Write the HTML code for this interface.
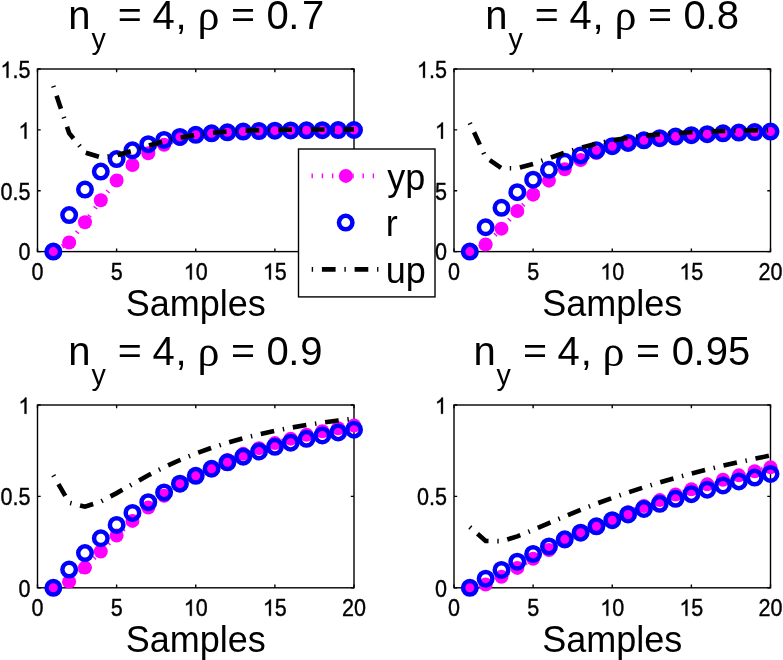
<!DOCTYPE html>
<html><head><meta charset="utf-8"><style>
html,body{margin:0;padding:0;background:#fff;overflow:hidden}
svg{display:block;will-change:transform}
text{font-family:"Liberation Sans",sans-serif;fill:#000}
.tk{font-size:22px;stroke:#000;stroke-width:0.35px}
.lb{font-size:36px}
.tt{font-size:40px}
.sub{font-size:30.2px}
.rho{font-family:"Liberation Serif",serif;font-size:44px}
</style></head><body>
<svg width="783" height="660" viewBox="0 0 783 660">
<rect width="783" height="660" fill="#fff"/>
<rect x="37.5" y="69.0" width="316.5" height="182.60" fill="none" stroke="#000" stroke-width="1.4"/>
<path d="M37.50 251.6v-3.2M37.50 69.0v3.2M116.62 251.6v-3.2M116.62 69.0v3.2M195.75 251.6v-3.2M195.75 69.0v3.2M274.88 251.6v-3.2M274.88 69.0v3.2M354.00 251.6v-3.2M354.00 69.0v3.2M37.5 251.60h3.2M354.0 251.60h-3.2M37.5 190.73h3.2M354.0 190.73h-3.2M37.5 129.87h3.2M354.0 129.87h-3.2M37.5 69.00h3.2M354.0 69.00h-3.2" stroke="#000" stroke-width="1.4" fill="none"/>
<g class="tk" transform="translate(31.50 279.60) scale(0.98 1.07)"><text x="0.000" y="0">0</text></g>
<g class="tk" transform="translate(110.63 279.60) scale(0.98 1.07)"><text x="0.000" y="0">5</text></g>
<g class="tk" transform="translate(183.76 279.60) scale(0.98 1.07)"><path d="M763 0H583V1147Q518 1085 412 1023Q306 961 223 930V1104Q373 1175 485 1276Q597 1377 643 1466H763Z" stroke-width="32.6" transform="translate(0.000 0) scale(0.01074 -0.01032)"/><text x="12.235" y="0">0</text></g>
<g class="tk" transform="translate(262.88 279.60) scale(0.98 1.07)"><path d="M763 0H583V1147Q518 1085 412 1023Q306 961 223 930V1104Q373 1175 485 1276Q597 1377 643 1466H763Z" stroke-width="32.6" transform="translate(0.000 0) scale(0.01074 -0.01032)"/><text x="12.235" y="0">5</text></g>
<g class="tk" transform="translate(342.01 279.60) scale(0.98 1.07)"><text x="0.000" y="0">2</text><text x="12.235" y="0">0</text></g>
<g class="tk" transform="translate(18.41 260.40) scale(0.98 1.07)"><text x="0.000" y="0">0</text></g>
<g class="tk" transform="translate(0.43 199.53) scale(0.98 1.07)"><text x="0.000" y="0">0</text><text x="12.235" y="0">.</text><text x="18.348" y="0">5</text></g>
<g class="tk" transform="translate(18.41 138.67) scale(0.98 1.07)"><path d="M763 0H583V1147Q518 1085 412 1023Q306 961 223 930V1104Q373 1175 485 1276Q597 1377 643 1466H763Z" stroke-width="32.6" transform="translate(0.000 0) scale(0.01074 -0.01032)"/></g>
<g class="tk" transform="translate(0.43 77.80) scale(0.98 1.07)"><path d="M763 0H583V1147Q518 1085 412 1023Q306 961 223 930V1104Q373 1175 485 1276Q597 1377 643 1466H763Z" stroke-width="32.6" transform="translate(0.000 0) scale(0.01074 -0.01032)"/><text x="12.235" y="0">.</text><text x="18.348" y="0">5</text></g>
<polyline points="53.33,251.60 69.15,242.49 84.97,222.22 100.80,200.19 116.62,180.62 132.45,164.95 148.28,153.20 164.10,144.83 179.93,139.11 195.75,135.34 211.57,132.95 227.40,131.49 243.22,130.63 259.05,130.16 274.88,129.92 290.70,129.81 306.52,129.77 322.35,129.77 338.18,129.78 354.00,129.80" fill="none" stroke="#f0f" stroke-width="4.6" stroke-dasharray="1.4 8.8"/>
<g fill="#f0f"><circle cx="53.33" cy="251.60" r="7"/><circle cx="69.15" cy="242.49" r="7"/><circle cx="84.97" cy="222.22" r="7"/><circle cx="100.80" cy="200.19" r="7"/><circle cx="116.62" cy="180.62" r="7"/><circle cx="132.45" cy="164.95" r="7"/><circle cx="148.28" cy="153.20" r="7"/><circle cx="164.10" cy="144.83" r="7"/><circle cx="179.93" cy="139.11" r="7"/><circle cx="195.75" cy="135.34" r="7"/><circle cx="211.57" cy="132.95" r="7"/><circle cx="227.40" cy="131.49" r="7"/><circle cx="243.22" cy="130.63" r="7"/><circle cx="259.05" cy="130.16" r="7"/><circle cx="274.88" cy="129.92" r="7"/><circle cx="290.70" cy="129.81" r="7"/><circle cx="306.52" cy="129.77" r="7"/><circle cx="322.35" cy="129.77" r="7"/><circle cx="338.18" cy="129.78" r="7"/><circle cx="354.00" cy="129.80" r="7"/></g>
<g fill="none" stroke="#00f" stroke-width="4.5"><circle cx="53.33" cy="251.60" r="6.75"/><circle cx="69.15" cy="215.08" r="6.75"/><circle cx="84.97" cy="189.52" r="6.75"/><circle cx="100.80" cy="171.62" r="6.75"/><circle cx="116.62" cy="159.09" r="6.75"/><circle cx="132.45" cy="150.33" r="6.75"/><circle cx="148.28" cy="144.19" r="6.75"/><circle cx="164.10" cy="139.89" r="6.75"/><circle cx="179.93" cy="136.88" r="6.75"/><circle cx="195.75" cy="134.78" r="6.75"/><circle cx="211.57" cy="133.31" r="6.75"/><circle cx="227.40" cy="132.27" r="6.75"/><circle cx="243.22" cy="131.55" r="6.75"/><circle cx="259.05" cy="131.05" r="6.75"/><circle cx="274.88" cy="130.69" r="6.75"/><circle cx="290.70" cy="130.44" r="6.75"/><circle cx="306.52" cy="130.27" r="6.75"/><circle cx="322.35" cy="130.15" r="6.75"/><circle cx="338.18" cy="130.06" r="6.75"/><circle cx="354.00" cy="130.01" r="6.75"/></g>
<polyline points="53.33,85.99 69.15,133.10 84.97,152.51 100.80,157.36 116.62,155.34 132.45,150.72 148.28,145.66 164.10,141.15 179.93,137.54 195.75,134.83 211.57,132.90 227.40,131.57 243.22,130.70 259.05,130.15 274.88,129.81 290.70,129.61 306.52,129.50 322.35,129.45 338.18,129.42 354.00,129.41" fill="none" stroke="#000" stroke-width="4.6" stroke-dasharray="1.4 8.8 13.7 8.8"/>
<text class="tt" x="68.34" y="28.90">n</text>
<text class="sub" transform="translate(91.50 49.00) scale(0.95 1)">y</text>
<text class="tt" transform="translate(117.83 27.10) scale(1.03 0.907)">=</text>
<text class="tt" x="152.45" y="28.90">4</text>
<text class="tt" x="175.60" y="28.90">,</text>
<text class="rho" x="197.40" y="30.10">ρ</text>
<text class="tt" transform="translate(230.98 27.10) scale(1.03 0.907)">=</text>
<text class="tt" x="266.58" y="28.90">0</text>
<text class="tt" x="288.29" y="28.90">.</text>
<text class="tt" x="302.10" y="28.90">7</text>
<text class="lb" x="195.75" y="315.60" text-anchor="middle">Samples</text>
<rect x="454.0" y="69.0" width="316.5" height="182.60" fill="none" stroke="#000" stroke-width="1.4"/>
<path d="M454.00 251.6v-3.2M454.00 69.0v3.2M533.12 251.6v-3.2M533.12 69.0v3.2M612.25 251.6v-3.2M612.25 69.0v3.2M691.38 251.6v-3.2M691.38 69.0v3.2M770.50 251.6v-3.2M770.50 69.0v3.2M454.0 251.60h3.2M770.5 251.60h-3.2M454.0 190.73h3.2M770.5 190.73h-3.2M454.0 129.87h3.2M770.5 129.87h-3.2M454.0 69.00h3.2M770.5 69.00h-3.2" stroke="#000" stroke-width="1.4" fill="none"/>
<g class="tk" transform="translate(448.00 279.60) scale(0.98 1.07)"><text x="0.000" y="0">0</text></g>
<g class="tk" transform="translate(527.13 279.60) scale(0.98 1.07)"><text x="0.000" y="0">5</text></g>
<g class="tk" transform="translate(600.26 279.60) scale(0.98 1.07)"><path d="M763 0H583V1147Q518 1085 412 1023Q306 961 223 930V1104Q373 1175 485 1276Q597 1377 643 1466H763Z" stroke-width="32.6" transform="translate(0.000 0) scale(0.01074 -0.01032)"/><text x="12.235" y="0">0</text></g>
<g class="tk" transform="translate(679.38 279.60) scale(0.98 1.07)"><path d="M763 0H583V1147Q518 1085 412 1023Q306 961 223 930V1104Q373 1175 485 1276Q597 1377 643 1466H763Z" stroke-width="32.6" transform="translate(0.000 0) scale(0.01074 -0.01032)"/><text x="12.235" y="0">5</text></g>
<g class="tk" transform="translate(758.51 279.60) scale(0.98 1.07)"><text x="0.000" y="0">2</text><text x="12.235" y="0">0</text></g>
<g class="tk" transform="translate(434.91 260.40) scale(0.98 1.07)"><text x="0.000" y="0">0</text></g>
<g class="tk" transform="translate(416.93 199.53) scale(0.98 1.07)"><text x="0.000" y="0">0</text><text x="12.235" y="0">.</text><text x="18.348" y="0">5</text></g>
<g class="tk" transform="translate(434.91 138.67) scale(0.98 1.07)"><path d="M763 0H583V1147Q518 1085 412 1023Q306 961 223 930V1104Q373 1175 485 1276Q597 1377 643 1466H763Z" stroke-width="32.6" transform="translate(0.000 0) scale(0.01074 -0.01032)"/></g>
<g class="tk" transform="translate(416.93 77.80) scale(0.98 1.07)"><path d="M763 0H583V1147Q518 1085 412 1023Q306 961 223 930V1104Q373 1175 485 1276Q597 1377 643 1466H763Z" stroke-width="32.6" transform="translate(0.000 0) scale(0.01074 -0.01032)"/><text x="12.235" y="0">.</text><text x="18.348" y="0">5</text></g>
<polyline points="469.82,251.60 485.65,244.52 501.48,228.66 517.30,211.01 533.12,194.64 548.95,180.64 564.77,169.19 580.60,160.07 596.42,152.94 612.25,147.42 628.08,143.19 643.90,139.95 659.73,137.49 675.55,135.63 691.38,134.22 707.20,133.15 723.02,132.34 738.85,131.73 754.67,131.27 770.50,130.93" fill="none" stroke="#f0f" stroke-width="4.6" stroke-dasharray="1.4 8.8"/>
<g fill="#f0f"><circle cx="469.82" cy="251.60" r="7"/><circle cx="485.65" cy="244.52" r="7"/><circle cx="501.48" cy="228.66" r="7"/><circle cx="517.30" cy="211.01" r="7"/><circle cx="533.12" cy="194.64" r="7"/><circle cx="548.95" cy="180.64" r="7"/><circle cx="564.77" cy="169.19" r="7"/><circle cx="580.60" cy="160.07" r="7"/><circle cx="596.42" cy="152.94" r="7"/><circle cx="612.25" cy="147.42" r="7"/><circle cx="628.08" cy="143.19" r="7"/><circle cx="643.90" cy="139.95" r="7"/><circle cx="659.73" cy="137.49" r="7"/><circle cx="675.55" cy="135.63" r="7"/><circle cx="691.38" cy="134.22" r="7"/><circle cx="707.20" cy="133.15" r="7"/><circle cx="723.02" cy="132.34" r="7"/><circle cx="738.85" cy="131.73" r="7"/><circle cx="754.67" cy="131.27" r="7"/><circle cx="770.50" cy="130.93" r="7"/></g>
<g fill="none" stroke="#00f" stroke-width="4.5"><circle cx="469.82" cy="251.60" r="6.75"/><circle cx="485.65" cy="227.25" r="6.75"/><circle cx="501.48" cy="207.78" r="6.75"/><circle cx="517.30" cy="192.19" r="6.75"/><circle cx="533.12" cy="179.73" r="6.75"/><circle cx="548.95" cy="169.76" r="6.75"/><circle cx="564.77" cy="161.78" r="6.75"/><circle cx="580.60" cy="155.40" r="6.75"/><circle cx="596.42" cy="150.29" r="6.75"/><circle cx="612.25" cy="146.21" r="6.75"/><circle cx="628.08" cy="142.94" r="6.75"/><circle cx="643.90" cy="140.32" r="6.75"/><circle cx="659.73" cy="138.23" r="6.75"/><circle cx="675.55" cy="136.56" r="6.75"/><circle cx="691.38" cy="135.22" r="6.75"/><circle cx="707.20" cy="134.15" r="6.75"/><circle cx="723.02" cy="133.29" r="6.75"/><circle cx="738.85" cy="132.61" r="6.75"/><circle cx="754.67" cy="132.06" r="6.75"/><circle cx="770.50" cy="131.62" r="6.75"/></g>
<polyline points="469.82,122.93 485.65,157.38 501.48,168.26 517.30,168.30 533.12,163.91 548.95,158.22 564.77,152.65 580.60,147.75 596.42,143.68 612.25,140.41 628.08,137.83 643.90,135.83 659.73,134.29 675.55,133.12 691.38,132.22 707.20,131.54 723.02,131.02 738.85,130.63 754.67,130.34 770.50,130.12" fill="none" stroke="#000" stroke-width="4.6" stroke-dasharray="1.4 8.8 13.7 8.8"/>
<text class="tt" x="485.34" y="28.90">n</text>
<text class="sub" transform="translate(508.50 49.00) scale(0.95 1)">y</text>
<text class="tt" transform="translate(534.83 27.10) scale(1.03 0.907)">=</text>
<text class="tt" x="569.45" y="28.90">4</text>
<text class="tt" x="592.60" y="28.90">,</text>
<text class="rho" x="614.40" y="30.10">ρ</text>
<text class="tt" transform="translate(647.98 27.10) scale(1.03 0.907)">=</text>
<text class="tt" x="683.58" y="28.90">0</text>
<text class="tt" x="705.29" y="28.90">.</text>
<text class="tt" x="716.83" y="28.90">8</text>
<text class="lb" x="612.25" y="315.60" text-anchor="middle">Samples</text>
<rect x="37.5" y="405.0" width="316.5" height="182.80" fill="none" stroke="#000" stroke-width="1.4"/>
<path d="M37.50 587.8v-3.2M37.50 405.0v3.2M116.62 587.8v-3.2M116.62 405.0v3.2M195.75 587.8v-3.2M195.75 405.0v3.2M274.88 587.8v-3.2M274.88 405.0v3.2M354.00 587.8v-3.2M354.00 405.0v3.2M37.5 587.80h3.2M354.0 587.80h-3.2M37.5 496.40h3.2M354.0 496.40h-3.2M37.5 405.00h3.2M354.0 405.00h-3.2" stroke="#000" stroke-width="1.4" fill="none"/>
<g class="tk" transform="translate(31.50 615.80) scale(0.98 1.07)"><text x="0.000" y="0">0</text></g>
<g class="tk" transform="translate(110.63 615.80) scale(0.98 1.07)"><text x="0.000" y="0">5</text></g>
<g class="tk" transform="translate(183.76 615.80) scale(0.98 1.07)"><path d="M763 0H583V1147Q518 1085 412 1023Q306 961 223 930V1104Q373 1175 485 1276Q597 1377 643 1466H763Z" stroke-width="32.6" transform="translate(0.000 0) scale(0.01074 -0.01032)"/><text x="12.235" y="0">0</text></g>
<g class="tk" transform="translate(262.88 615.80) scale(0.98 1.07)"><path d="M763 0H583V1147Q518 1085 412 1023Q306 961 223 930V1104Q373 1175 485 1276Q597 1377 643 1466H763Z" stroke-width="32.6" transform="translate(0.000 0) scale(0.01074 -0.01032)"/><text x="12.235" y="0">5</text></g>
<g class="tk" transform="translate(342.01 615.80) scale(0.98 1.07)"><text x="0.000" y="0">2</text><text x="12.235" y="0">0</text></g>
<g class="tk" transform="translate(18.41 596.60) scale(0.98 1.07)"><text x="0.000" y="0">0</text></g>
<g class="tk" transform="translate(0.43 505.20) scale(0.98 1.07)"><text x="0.000" y="0">0</text><text x="12.235" y="0">.</text><text x="18.348" y="0">5</text></g>
<g class="tk" transform="translate(18.41 413.80) scale(0.98 1.07)"><path d="M763 0H583V1147Q518 1085 412 1023Q306 961 223 930V1104Q373 1175 485 1276Q597 1377 643 1466H763Z" stroke-width="32.6" transform="translate(0.000 0) scale(0.01074 -0.01032)"/></g>
<polyline points="53.33,587.80 69.15,581.61 84.97,567.58 100.80,551.47 116.62,535.62 132.45,520.92 148.28,507.62 164.10,495.74 179.93,485.19 195.75,475.85 211.57,467.59 227.40,460.28 243.22,453.83 259.05,448.13 274.88,443.10 290.70,438.65 306.52,434.72 322.35,431.25 338.18,428.19 354.00,425.48" fill="none" stroke="#f0f" stroke-width="4.6" stroke-dasharray="1.4 8.8"/>
<g fill="#f0f"><circle cx="53.33" cy="587.80" r="7"/><circle cx="69.15" cy="581.61" r="7"/><circle cx="84.97" cy="567.58" r="7"/><circle cx="100.80" cy="551.47" r="7"/><circle cx="116.62" cy="535.62" r="7"/><circle cx="132.45" cy="520.92" r="7"/><circle cx="148.28" cy="507.62" r="7"/><circle cx="164.10" cy="495.74" r="7"/><circle cx="179.93" cy="485.19" r="7"/><circle cx="195.75" cy="475.85" r="7"/><circle cx="211.57" cy="467.59" r="7"/><circle cx="227.40" cy="460.28" r="7"/><circle cx="243.22" cy="453.83" r="7"/><circle cx="259.05" cy="448.13" r="7"/><circle cx="274.88" cy="443.10" r="7"/><circle cx="290.70" cy="438.65" r="7"/><circle cx="306.52" cy="434.72" r="7"/><circle cx="322.35" cy="431.25" r="7"/><circle cx="338.18" cy="428.19" r="7"/><circle cx="354.00" cy="425.48" r="7"/></g>
<g fill="none" stroke="#00f" stroke-width="4.5"><circle cx="53.33" cy="587.80" r="6.75"/><circle cx="69.15" cy="569.52" r="6.75"/><circle cx="84.97" cy="553.07" r="6.75"/><circle cx="100.80" cy="538.26" r="6.75"/><circle cx="116.62" cy="524.94" r="6.75"/><circle cx="132.45" cy="512.94" r="6.75"/><circle cx="148.28" cy="502.15" r="6.75"/><circle cx="164.10" cy="492.43" r="6.75"/><circle cx="179.93" cy="483.69" r="6.75"/><circle cx="195.75" cy="475.82" r="6.75"/><circle cx="211.57" cy="468.74" r="6.75"/><circle cx="227.40" cy="462.36" r="6.75"/><circle cx="243.22" cy="456.63" r="6.75"/><circle cx="259.05" cy="451.47" r="6.75"/><circle cx="274.88" cy="446.82" r="6.75"/><circle cx="290.70" cy="442.64" r="6.75"/><circle cx="306.52" cy="438.87" r="6.75"/><circle cx="322.35" cy="435.49" r="6.75"/><circle cx="338.18" cy="432.44" r="6.75"/><circle cx="354.00" cy="429.69" r="6.75"/></g>
<polyline points="53.33,475.25 69.15,502.66 84.97,506.71 100.80,501.52 116.62,493.12 132.45,484.04 148.28,475.29 164.10,467.25 179.93,460.01 195.75,453.56 211.57,447.84 227.40,442.77 243.22,438.29 259.05,434.33 274.88,430.83 290.70,427.74 306.52,425.01 322.35,422.59 338.18,420.46 354.00,418.58" fill="none" stroke="#000" stroke-width="4.6" stroke-dasharray="1.4 8.8 13.7 8.8"/>
<text class="tt" x="68.34" y="364.90">n</text>
<text class="sub" transform="translate(91.50 385.00) scale(0.95 1)">y</text>
<text class="tt" transform="translate(117.83 363.10) scale(1.03 0.907)">=</text>
<text class="tt" x="152.45" y="364.90">4</text>
<text class="tt" x="175.60" y="364.90">,</text>
<text class="rho" x="197.40" y="366.10">ρ</text>
<text class="tt" transform="translate(230.98 363.10) scale(1.03 0.907)">=</text>
<text class="tt" x="266.58" y="364.90">0</text>
<text class="tt" x="288.29" y="364.90">.</text>
<text class="tt" x="300.15" y="364.90">9</text>
<text class="lb" x="195.75" y="651.60" text-anchor="middle">Samples</text>
<rect x="454.0" y="405.0" width="316.5" height="182.80" fill="none" stroke="#000" stroke-width="1.4"/>
<path d="M454.00 587.8v-3.2M454.00 405.0v3.2M533.12 587.8v-3.2M533.12 405.0v3.2M612.25 587.8v-3.2M612.25 405.0v3.2M691.38 587.8v-3.2M691.38 405.0v3.2M770.50 587.8v-3.2M770.50 405.0v3.2M454.0 587.80h3.2M770.5 587.80h-3.2M454.0 496.40h3.2M770.5 496.40h-3.2M454.0 405.00h3.2M770.5 405.00h-3.2" stroke="#000" stroke-width="1.4" fill="none"/>
<g class="tk" transform="translate(448.00 615.80) scale(0.98 1.07)"><text x="0.000" y="0">0</text></g>
<g class="tk" transform="translate(527.13 615.80) scale(0.98 1.07)"><text x="0.000" y="0">5</text></g>
<g class="tk" transform="translate(600.26 615.80) scale(0.98 1.07)"><path d="M763 0H583V1147Q518 1085 412 1023Q306 961 223 930V1104Q373 1175 485 1276Q597 1377 643 1466H763Z" stroke-width="32.6" transform="translate(0.000 0) scale(0.01074 -0.01032)"/><text x="12.235" y="0">0</text></g>
<g class="tk" transform="translate(679.38 615.80) scale(0.98 1.07)"><path d="M763 0H583V1147Q518 1085 412 1023Q306 961 223 930V1104Q373 1175 485 1276Q597 1377 643 1466H763Z" stroke-width="32.6" transform="translate(0.000 0) scale(0.01074 -0.01032)"/><text x="12.235" y="0">5</text></g>
<g class="tk" transform="translate(758.51 615.80) scale(0.98 1.07)"><text x="0.000" y="0">2</text><text x="12.235" y="0">0</text></g>
<g class="tk" transform="translate(434.91 596.60) scale(0.98 1.07)"><text x="0.000" y="0">0</text></g>
<g class="tk" transform="translate(416.93 505.20) scale(0.98 1.07)"><text x="0.000" y="0">0</text><text x="12.235" y="0">.</text><text x="18.348" y="0">5</text></g>
<g class="tk" transform="translate(434.91 413.80) scale(0.98 1.07)"><path d="M763 0H583V1147Q518 1085 412 1023Q306 961 223 930V1104Q373 1175 485 1276Q597 1377 643 1466H763Z" stroke-width="32.6" transform="translate(0.000 0) scale(0.01074 -0.01032)"/></g>
<polyline points="469.82,587.80 485.65,584.46 501.48,576.84 517.30,567.92 533.12,558.82 548.95,549.99 564.77,541.57 580.60,533.60 596.42,526.08 612.25,518.99 628.08,512.32 643.90,506.04 659.73,500.12 675.55,494.55 691.38,489.31 707.20,484.37 723.02,479.72 738.85,475.35 754.67,471.23 770.50,467.35" fill="none" stroke="#f0f" stroke-width="4.6" stroke-dasharray="1.4 8.8"/>
<g fill="#f0f"><circle cx="469.82" cy="587.80" r="7"/><circle cx="485.65" cy="584.46" r="7"/><circle cx="501.48" cy="576.84" r="7"/><circle cx="517.30" cy="567.92" r="7"/><circle cx="533.12" cy="558.82" r="7"/><circle cx="548.95" cy="549.99" r="7"/><circle cx="564.77" cy="541.57" r="7"/><circle cx="580.60" cy="533.60" r="7"/><circle cx="596.42" cy="526.08" r="7"/><circle cx="612.25" cy="518.99" r="7"/><circle cx="628.08" cy="512.32" r="7"/><circle cx="643.90" cy="506.04" r="7"/><circle cx="659.73" cy="500.12" r="7"/><circle cx="675.55" cy="494.55" r="7"/><circle cx="691.38" cy="489.31" r="7"/><circle cx="707.20" cy="484.37" r="7"/><circle cx="723.02" cy="479.72" r="7"/><circle cx="738.85" cy="475.35" r="7"/><circle cx="754.67" cy="471.23" r="7"/><circle cx="770.50" cy="467.35" r="7"/></g>
<g fill="none" stroke="#00f" stroke-width="4.5"><circle cx="469.82" cy="587.80" r="6.75"/><circle cx="485.65" cy="578.66" r="6.75"/><circle cx="501.48" cy="569.98" r="6.75"/><circle cx="517.30" cy="561.73" r="6.75"/><circle cx="533.12" cy="553.89" r="6.75"/><circle cx="548.95" cy="546.45" r="6.75"/><circle cx="564.77" cy="539.37" r="6.75"/><circle cx="580.60" cy="532.66" r="6.75"/><circle cx="596.42" cy="526.27" r="6.75"/><circle cx="612.25" cy="520.21" r="6.75"/><circle cx="628.08" cy="514.45" r="6.75"/><circle cx="643.90" cy="508.98" r="6.75"/><circle cx="659.73" cy="503.78" r="6.75"/><circle cx="675.55" cy="498.84" r="6.75"/><circle cx="691.38" cy="494.15" r="6.75"/><circle cx="707.20" cy="489.69" r="6.75"/><circle cx="723.02" cy="485.46" r="6.75"/><circle cx="738.85" cy="481.43" r="6.75"/><circle cx="754.67" cy="477.61" r="6.75"/><circle cx="770.50" cy="473.98" r="6.75"/></g>
<polyline points="469.82,527.09 485.65,540.93 501.48,541.19 517.30,536.42 533.12,529.95 548.95,523.10 564.77,516.34 580.60,509.86 596.42,503.71 612.25,497.91 628.08,492.43 643.90,487.28 659.73,482.42 675.55,477.85 691.38,473.55 707.20,469.50 723.02,465.68 738.85,462.09 754.67,458.71 770.50,455.53" fill="none" stroke="#000" stroke-width="4.6" stroke-dasharray="1.4 8.8 13.7 8.8"/>
<text class="tt" x="473.44" y="364.90">n</text>
<text class="sub" transform="translate(496.60 385.00) scale(0.95 1)">y</text>
<text class="tt" transform="translate(522.93 363.10) scale(1.03 0.907)">=</text>
<text class="tt" x="557.55" y="364.90">4</text>
<text class="tt" x="580.70" y="364.90">,</text>
<text class="rho" x="602.50" y="366.10">ρ</text>
<text class="tt" transform="translate(636.08 363.10) scale(1.03 0.907)">=</text>
<text class="tt" x="671.68" y="364.90">0</text>
<text class="tt" x="693.39" y="364.90">.</text>
<text class="tt" x="705.79" y="364.90">9</text>
<text class="tt" x="727.97" y="364.90">5</text>
<text class="lb" x="612.25" y="651.60" text-anchor="middle">Samples</text>
<rect x="298.5" y="149.0" width="136.5" height="147.9" fill="#fff" stroke="#000" stroke-width="1.4"/>
<path d="M311.5 175.9H374" stroke="#f0f" stroke-width="4.6" stroke-dasharray="1.4 8.8" fill="none"/>
<circle cx="345.8" cy="175.9" r="7" fill="#f0f"/>
<circle cx="345.7" cy="222.6" r="6.75" fill="none" stroke="#00f" stroke-width="4.5"/>
<path d="M311.7 269.4H378.4" stroke="#000" stroke-width="4.6" stroke-dasharray="1.4 8.8 13.7 8.8" fill="none"/>
<text class="lb" x="387.2" y="189.5">yp</text>
<text class="lb" x="385.8" y="236.2">r</text>
<text class="lb" x="385.7" y="283">up</text>
</svg>
</body></html>
